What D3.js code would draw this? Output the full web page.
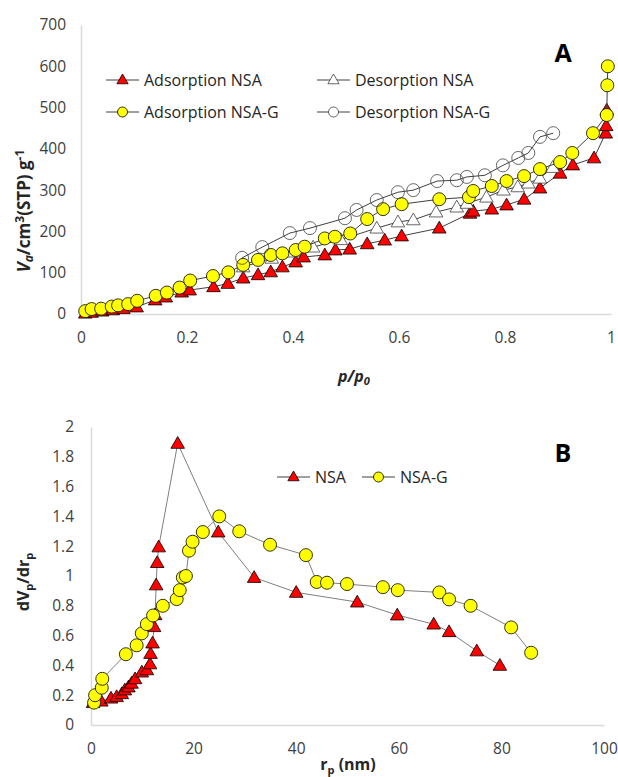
<!DOCTYPE html>
<html>
<head>
<meta charset="utf-8">
<script src="https://cdn.jsdelivr.net/npm/d3@7"></script>
<style>
  body { margin: 0; background: #fff; }
  svg { display: block; font-family: "Open Sans", sans-serif; }
</style>
</head>
<body>
<svg id="chart" width="618" height="777"></svg>
<script>
// ---- panel A: isotherms (p/p0, cm3 STP/g) ----
const adsNsaP = [0.008, 0.02, 0.04, 0.06, 0.08, 0.105, 0.14, 0.16, 0.19, 0.205, 0.25, 0.277, 0.306, 0.334, 0.358, 0.38, 0.405, 0.42, 0.46, 0.48, 0.507, 0.54, 0.573, 0.605, 0.676, 0.734, 0.74, 0.775, 0.803, 0.836, 0.866, 0.904, 0.928, 0.968, 0.99, 0.991, 0.992];
const adsNsaV = [2, 4, 7, 10, 13, 17, 34, 41, 53, 58, 66, 74, 87, 95, 102, 114, 126, 138, 143, 155, 157, 170, 179, 189, 208, 244, 249, 254, 264, 278, 305, 341, 361, 378, 438, 456, 494];

const desNsaP = [0.306, 0.36, 0.40, 0.438, 0.49, 0.558, 0.598, 0.627, 0.67, 0.709, 0.728, 0.765, 0.797, 0.824, 0.844, 0.866, 0.89];
const desNsaV = [114, 135, 150, 162, 180, 208, 223, 228, 247, 259, 268, 283, 300, 308, 317, 329, 355];

const adsNsagP = [0.008, 0.02, 0.038, 0.058, 0.07, 0.089, 0.106, 0.141, 0.162, 0.186, 0.206, 0.249, 0.278, 0.306, 0.334, 0.358, 0.38, 0.405, 0.422, 0.46, 0.479, 0.508, 0.54, 0.57, 0.605, 0.676, 0.732, 0.74, 0.775, 0.803, 0.836, 0.866, 0.904, 0.927, 0.966, 0.992, 0.993, 0.994];
const adsNsagV = [7, 12, 13, 18, 21, 24, 32, 44, 52, 64, 81, 92, 101, 119, 131, 143, 147, 155, 163, 183, 187, 195, 230, 254, 266, 278, 283, 298, 310, 322, 334, 351, 368, 390, 438, 482, 554, 600];

const desNsagP = [0.304, 0.342, 0.394, 0.432, 0.498, 0.52, 0.558, 0.598, 0.627, 0.672, 0.709, 0.728, 0.762, 0.796, 0.825, 0.844, 0.866, 0.891];
const desNsagV = [136, 162, 196, 208, 232, 252, 276, 295, 300, 322, 324, 332, 336, 360, 378, 390, 429, 438];

const ticksA_x = [0, 0.2, 0.4, 0.6, 0.8, 1];
const ticksA_y = [0, 100, 200, 300, 400, 500, 600, 700];

// ---- panel B: pore size distribution (nm, dVp/drp) ----
const nsaR = [0.4, 2.0, 3.9, 5.0, 6.0, 6.6, 7.3, 7.9, 8.6, 9.9, 10.9, 11.5, 11.6, 12.0, 12.3, 12.5, 12.7, 12.9, 13.2, 16.9, 24.8, 31.8, 40, 51.9, 59.7, 66.8, 69.8, 75.2, 79.7];
const nsaD = [0.15, 0.16, 0.18, 0.19, 0.21, 0.235, 0.255, 0.28, 0.31, 0.355, 0.37, 0.41, 0.48, 0.55, 0.66, 0.74, 0.94, 1.09, 1.195, 1.89, 1.295, 0.99, 0.89, 0.825, 0.738, 0.677, 0.626, 0.497, 0.40];

const nsagR = [0.6, 0.8, 2.1, 2.2, 6.8, 8.9, 9.9, 10.9, 12.1, 14, 16.7, 17.3, 17.9, 18.5, 19.1, 19.8, 21.8, 25, 28.9, 34.9, 41.9, 44, 46, 49.9, 56.9, 59.8, 67.9, 69.8, 74, 81.9, 85.8];
const nsagD = [0.15, 0.2, 0.25, 0.31, 0.475, 0.535, 0.615, 0.677, 0.735, 0.80, 0.845, 0.905, 0.99, 1.0, 1.17, 1.23, 1.295, 1.40, 1.30, 1.21, 1.14, 0.96, 0.955, 0.946, 0.925, 0.905, 0.89, 0.843, 0.80, 0.655, 0.485];

const ticksB_x = [0, 20, 40, 60, 80, 100];
const ticksB_y = [0, 0.2, 0.4, 0.6, 0.8, 1, 1.2, 1.4, 1.6, 1.8, 2];

const zip = (xs, ys) => xs.map((x, i) => [x, ys[i]]);

const svg = d3.select("#chart");
const tickColor = "#404040";
const axisColor = "#d9d9d9";

function drawAxes(x, y, xTicks, yTicks, xPad, yPad) {
  const gx = svg.append("g")
    .attr("transform", `translate(0,${y.range()[0]})`)
    .call(d3.axisBottom(x).tickValues(xTicks).tickSize(0).tickPadding(xPad).tickFormat(d3.format("")));
  const gy = svg.append("g")
    .attr("transform", `translate(${x.range()[0]},0)`)
    .call(d3.axisLeft(y).tickValues(yTicks).tickSize(0).tickPadding(yPad).tickFormat(d3.format("")));
  [gx, gy].forEach(g => {
    g.select(".domain").attr("stroke", axisColor).attr("stroke-width", 1.5);
    g.selectAll("text").attr("fill", tickColor).style("font-size", "15.5px")
      .style("font-family", "'Open Sans', sans-serif");
  });
}

const tri = d3.symbol().type(d3.symbolTriangle);

function drawSeries(x, y, pts, shape, fill, stroke, lineColor, size) {
  svg.append("path")
    .datum(pts)
    .attr("fill", "none")
    .attr("stroke", lineColor)
    .attr("stroke-width", 1)
    .attr("d", d3.line().x(d => x(d[0])).y(d => y(d[1])));
  const g = svg.append("g");
  if (shape === "tri") {
    g.selectAll("path").data(pts).join("path")
      .attr("d", tri.size(size)())
      .attr("transform", d => `translate(${x(d[0])},${y(d[1]) + 1})`)
      .attr("fill", fill).attr("stroke", stroke).attr("stroke-width", 0.8);
  } else {
    g.selectAll("circle").data(pts).join("circle")
      .attr("cx", d => x(d[0])).attr("cy", d => y(d[1])).attr("r", size)
      .attr("fill", fill).attr("stroke", stroke).attr("stroke-width", 0.8);
  }
}

function legendItem(lx, ly, label, shape, fill, stroke, size) {
  svg.append("line").attr("x1", lx).attr("x2", lx + 33).attr("y1", ly).attr("y2", ly)
    .attr("stroke", "#404040").attr("stroke-width", 1);
  if (shape === "tri") {
    svg.append("path").attr("d", tri.size(size)())
      .attr("transform", `translate(${lx + 16.5},${ly + 0.5})`)
      .attr("fill", fill).attr("stroke", stroke).attr("stroke-width", 0.8);
  } else {
    svg.append("circle").attr("cx", lx + 16.5).attr("cy", ly).attr("r", size)
      .attr("fill", fill).attr("stroke", stroke).attr("stroke-width", 0.8);
  }
  svg.append("text").attr("x", lx + 38).attr("y", ly + 5.5)
    .attr("fill", "#262626").style("font-size", "16px").text(label);
}

// ===== Panel A =====
const xA = d3.scaleLinear().domain([0, 1]).range([81, 611]);
const yA = d3.scaleLinear().domain([0, 700]).range([314, 25]);
drawAxes(xA, yA, ticksA_x, ticksA_y, 18, 15);

drawSeries(xA, yA, zip(adsNsaP, adsNsaV), "tri", "#ff0000", "#000", "#404040", 80);
drawSeries(xA, yA, zip(desNsaP, desNsaV), "tri", "#fff", "#404040", "#404040", 80);
drawSeries(xA, yA, zip(adsNsagP, adsNsagV), "circ", "#ffff00", "#000", "#404040", 6.5);
drawSeries(xA, yA, zip(desNsagP, desNsagV), "circ", "none", "#404040", "#404040", 6.5);

legendItem(106, 80, "Adsorption NSA", "tri", "#ff0000", "#000", 55);
legendItem(317, 80, "Desorption NSA", "tri", "#fff", "#404040", 55);
legendItem(106, 112, "Adsorption NSA-G", "circ", "#ffff00", "#000", 5);
legendItem(317, 112, "Desorption NSA-G", "circ", "#fff", "#404040", 5);

svg.append("text").attr("x", 563).attr("y", 62).attr("text-anchor", "middle")
  .style("font-size", "25px").style("font-weight", "bold").text("A");

// x title p/p0
const tA = svg.append("text").attr("x", 354).attr("y", 382).attr("text-anchor", "middle")
  .style("font-size", "16px").style("font-weight", "bold").style("font-style", "italic")
  .attr("fill", "#262626");
tA.append("tspan").text("p/p");
tA.append("tspan").attr("dy", 3).style("font-size", "11px").text("0");

// y title
const yTA = svg.append("text").attr("transform", "translate(30,211) rotate(-90)")
  .attr("text-anchor", "middle").style("font-size", "17px").style("font-weight", "bold")
  .attr("fill", "#262626");
yTA.append("tspan").style("font-style", "italic").text("V");
yTA.append("tspan").attr("dy", 3).style("font-size", "12px").style("font-style", "italic").text("a");
yTA.append("tspan").attr("dy", -3).text("/cm");
yTA.append("tspan").attr("dy", -6).style("font-size", "12px").text("3");
yTA.append("tspan").attr("dy", 6).text("(STP) g");
yTA.append("tspan").attr("dy", -6).style("font-size", "12px").text("-1");

// ===== Panel B =====
const xB = d3.scaleLinear().domain([0, 100]).range([91, 604]);
const yB = d3.scaleLinear().domain([0, 2]).range([725, 427]);
drawAxes(xB, yB, ticksB_x, ticksB_y, 18, 17);

drawSeries(xB, yB, zip(nsaR, nsaD), "tri", "#ff0000", "#000", "#7f7f7f", 80);
drawSeries(xB, yB, zip(nsagR, nsagD), "circ", "#ffff00", "#000", "#7f7f7f", 6.5);

legendItem(277, 477, "NSA", "tri", "#ff0000", "#000", 55);
legendItem(362, 477, "NSA-G", "circ", "#ffff00", "#000", 5);

svg.append("text").attr("x", 563).attr("y", 462).attr("text-anchor", "middle")
  .style("font-size", "25px").style("font-weight", "bold").text("B");

const tB = svg.append("text").attr("x", 348).attr("y", 770).attr("text-anchor", "middle")
  .style("font-size", "16px").style("font-weight", "bold").attr("fill", "#262626");
tB.append("tspan").text("r");
tB.append("tspan").attr("dy", 4).style("font-size", "11px").text("p");
tB.append("tspan").attr("dy", -4).text(" (nm)");

const yTB = svg.append("text").attr("transform", "translate(29,582) rotate(-90)")
  .attr("text-anchor", "middle").style("font-size", "16px").style("font-weight", "bold")
  .attr("fill", "#262626");
yTB.append("tspan").text("dV");
yTB.append("tspan").attr("dy", 4).style("font-size", "11px").text("p");
yTB.append("tspan").attr("dy", -4).text("/dr");
yTB.append("tspan").attr("dy", 4).style("font-size", "11px").text("p");
</script>
</body>
</html>
